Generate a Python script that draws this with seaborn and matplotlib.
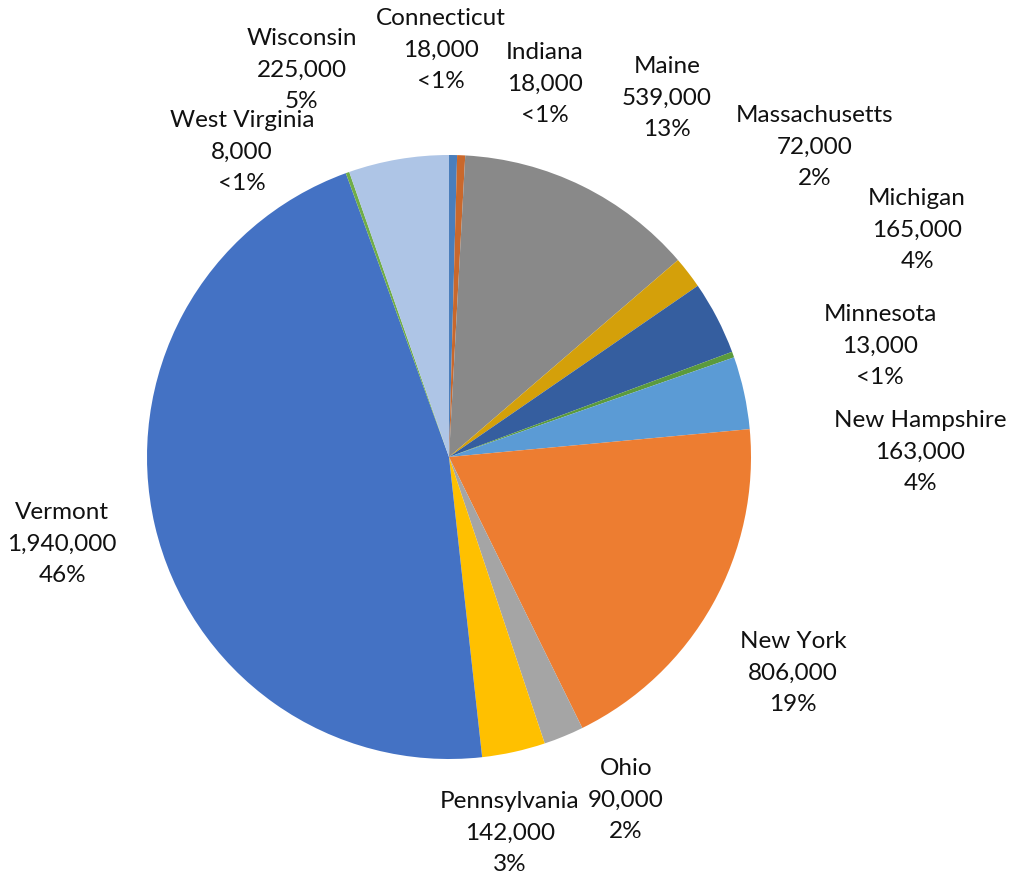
import matplotlib
matplotlib.use("Agg")
import matplotlib.pyplot as plt
import seaborn as sns

# ---- data ----
states = ["Connecticut", "Indiana", "Maine", "Massachusetts", "Michigan", "Minnesota",
          "New Hampshire", "New York", "Ohio", "Pennsylvania", "Vermont",
          "West Virginia", "Wisconsin"]
values = [18000, 18000, 539000, 72000, 165000, 13000,
          163000, 806000, 90000, 142000, 1940000, 8000, 225000]

# ---- styles / layout ----
colors = ["#4A7EBB", "#C9682C", "#898989", "#D4A00A", "#355E9F", "#5B9A3C",
          "#5B9BD5", "#ED7D31", "#A5A5A5", "#FFC000", "#4472C4", "#70AD47", "#AEC5E6"]
# label centres in units of pie radius (relative to pie centre)
label_xy = [(-0.026, 1.348), (0.318, 1.235), (0.722, 1.189), (1.212, 1.026),
            (1.550, 0.752), (1.427, 0.368), (1.560, 0.017), (1.139, -0.715),
            (0.586, -1.136), (0.202, -1.245), (-1.281, -0.288), (-0.685, 1.010),
            (-0.487, 1.281)]

sns.set_theme(style="white")
plt.rcParams["font.family"] = ["Lato", "DejaVu Sans"]

W, H, dpi = 1013, 877, 100
fig = plt.figure(figsize=(W / dpi, H / dpi), dpi=dpi)
ax = fig.add_axes([0, 0, 1, 1])
cx, cy, R = 449, 457, 302  # pixel centre (from top) and radius

ax.pie(values, colors=colors, startangle=90, counterclock=False, radius=1.0,
       wedgeprops=dict(linewidth=0))
ax.set_xlim(-cx / R, (W - cx) / R)
ax.set_ylim(-(H - cy) / R, cy / R)
ax.set_aspect("auto")
ax.axis("off")

total = sum(values)
for name, v, (lx, ly) in zip(states, values, label_xy):
    pct = v / total * 100
    ptxt = "<1%" if pct < 1 else f"{round(pct):d}%"
    ax.text(lx, ly, f"{name}\n{v:,}\n{ptxt}", ha="center", va="center",
            fontsize=17.5, color="#111111", linespacing=1.62)

fig.savefig("out.png", dpi=dpi)
